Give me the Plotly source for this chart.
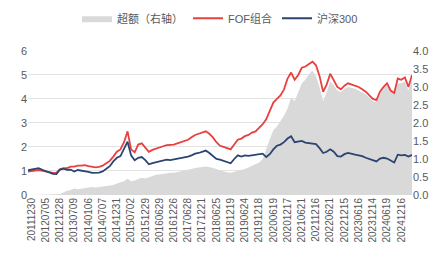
import plotly.graph_objects as go

tick_labels = ["20111230", "20120705", "20121228", "20130709", "20140106", "20140707",
               "20141231", "20150702", "20151229", "20160629", "20161226", "20170628",
               "20171221", "20180625", "20181219", "20190624", "20191218", "20200619",
               "20201217", "20210621", "20211216", "20220621", "20221215", "20230616",
               "20231214", "20240619", "20241216"]

# one lead point, then 4 samples per half-year interval starting at each tick label
fof = [0.97,
       0.98, 1.02, 1.04, 1.00,
       0.98, 0.95, 0.92, 0.93,
       1.07, 1.12, 1.12, 1.18,
       1.18, 1.22, 1.22, 1.24,
       1.20, 1.17, 1.15, 1.17,
       1.22, 1.32, 1.42, 1.60,
       1.80, 1.90, 2.20, 2.65,
       1.90, 1.78, 2.10, 2.15,
       1.95, 1.80, 1.88, 1.92,
       1.97, 2.03, 2.08, 2.08,
       2.10, 2.15, 2.20, 2.22,
       2.30, 2.40, 2.50, 2.55,
       2.60, 2.65, 2.55, 2.40,
       2.20, 2.05, 2.00, 1.95,
       1.90, 2.10, 2.30, 2.35,
       2.45, 2.50, 2.60, 2.65,
       2.80, 2.95, 3.15, 3.50,
       3.85, 4.00, 4.15, 4.40,
       4.85, 5.10, 4.80, 5.00,
       5.30, 5.35, 5.45, 5.55,
       5.40, 4.95, 4.30, 4.60,
       5.05, 4.80, 4.50, 4.40,
       4.55, 4.65, 4.60, 4.55,
       4.50, 4.40, 4.30, 4.15,
       4.00, 3.95, 4.30, 4.50,
       4.65, 4.35, 4.25, 4.85,
       4.80, 4.90, 4.50, 5.00]

hs300 = [1.03,
         1.05, 1.10, 1.12, 1.05,
         1.00, 0.93, 0.88, 0.87,
         1.06, 1.10, 1.05, 1.06,
         0.98, 1.04, 1.02, 1.00,
         0.96, 0.92, 0.92, 0.93,
         0.98, 1.08, 1.20, 1.40,
         1.55, 1.62, 1.90, 2.22,
         1.65, 1.45, 1.55, 1.58,
         1.45, 1.28, 1.33, 1.36,
         1.39, 1.43, 1.47, 1.45,
         1.48, 1.50, 1.52, 1.55,
         1.60, 1.65, 1.72, 1.75,
         1.80, 1.85, 1.75, 1.62,
         1.50, 1.47, 1.42, 1.38,
         1.32, 1.50, 1.65, 1.60,
         1.65, 1.63, 1.66, 1.68,
         1.72, 1.72, 1.58, 1.70,
         1.90, 2.05, 2.10, 2.20,
         2.35, 2.45, 2.20, 2.22,
         2.25, 2.18, 2.15, 2.15,
         2.12, 1.95, 1.75, 1.80,
         1.90, 1.80, 1.62, 1.60,
         1.70, 1.75, 1.73, 1.68,
         1.65, 1.62, 1.55, 1.50,
         1.45, 1.40, 1.52, 1.55,
         1.52, 1.42, 1.35, 1.68,
         1.65, 1.67, 1.60, 1.67]

excess = [0.00,
          0.00, 0.00, 0.01, 0.00,
          0.00, 0.01, 0.02, 0.02,
          0.03, 0.08, 0.12, 0.14,
          0.18, 0.16, 0.18, 0.20,
          0.22, 0.22, 0.21, 0.22,
          0.24, 0.26, 0.26, 0.28,
          0.32, 0.36, 0.38, 0.45,
          0.38, 0.40, 0.45, 0.48,
          0.46, 0.50, 0.53, 0.56,
          0.57, 0.59, 0.60, 0.62,
          0.62, 0.64, 0.66, 0.67,
          0.68, 0.72, 0.75, 0.77,
          0.78, 0.79, 0.78, 0.76,
          0.72, 0.68, 0.65, 0.63,
          0.62, 0.64, 0.68, 0.70,
          0.72, 0.76, 0.80, 0.84,
          0.90, 1.00, 1.30, 1.55,
          1.80, 1.90, 2.05, 2.20,
          2.40, 2.70, 2.60, 2.85,
          3.10, 3.20, 3.35, 3.45,
          3.30, 3.00, 2.60, 2.85,
          3.15, 3.05, 2.90, 2.85,
          2.95, 3.00, 2.98, 2.95,
          2.90, 2.85, 2.80, 2.70,
          2.60, 2.58, 2.80, 2.95,
          3.05, 2.90, 2.80, 3.10,
          3.10, 3.15, 2.90, 3.20]

steps_per_label = 4
x = list(range(len(fof)))
tickvals = [1 + steps_per_label * k for k in range(len(tick_labels))]

font_family = "Liberation Sans, Noto Sans CJK SC, sans-serif"
txt = "#595959"

fig = go.Figure()
# excess area on the primary (right-side) axis so it sits beneath the lines
fig.add_trace(go.Scatter(x=x, y=excess, name="超额（右轴）", yaxis="y", mode="lines",
                         line=dict(width=0, color="#d9d9d9"), fill="tozeroy",
                         fillcolor="#d9d9d9"))
fig.add_trace(go.Scatter(x=x, y=fof, name="FOF组合", yaxis="y2", mode="lines",
                         line=dict(color="#e8403f", width=1.8)))
fig.add_trace(go.Scatter(x=x, y=hs300, name="沪深300", yaxis="y2", mode="lines",
                         line=dict(color="#2c4470", width=1.8)))

fig.update_layout(
    width=441, height=261,
    margin=dict(l=28, r=29, t=43, b=66),
    paper_bgcolor="white", plot_bgcolor="white",
    font=dict(family=font_family, size=11, color=txt),
    showlegend=True,
    legend=dict(orientation="h", x=0.5, xanchor="center", y=0.93, yanchor="middle",
                yref="container", font=dict(size=11, color=txt),
                itemwidth=30, tracegroupgap=0, traceorder="normal"),
    xaxis=dict(range=[0, len(fof) - 1], tickmode="array", tickvals=tickvals,
               ticktext=tick_labels, tickangle=-90, showgrid=False, zeroline=False,
               showline=False, ticks="", tickfont=dict(size=10, color=txt)),
    yaxis=dict(range=[0, 4], dtick=0.5, tickformat=".1f", side="right",
               showgrid=False, zeroline=False, ticks="", tickfont=dict(size=11, color=txt)),
    yaxis2=dict(range=[0, 6], dtick=1, overlaying="y", side="left",
                showgrid=True, gridcolor="#e3e3e3", gridwidth=1, zeroline=False,
                ticks="", tickfont=dict(size=11, color=txt)),
)

fig.write_html("out.html")
